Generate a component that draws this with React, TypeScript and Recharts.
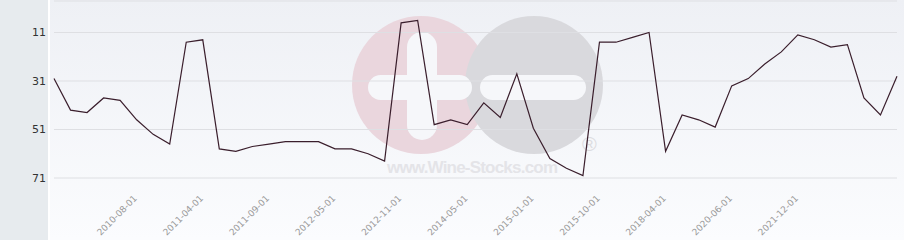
import React from 'react';
import { LineChart, Line, XAxis, YAxis, CartesianGrid } from 'recharts';

// category dates (only some are printed on the axis)
const dates = [
  '2009-10-01', '2010-01-01', '2010-03-01', '2010-05-01', '2010-07-01', '2010-08-01',
  '2010-10-01', '2010-12-01', '2011-02-01', '2011-04-01', '2011-05-01', '2011-06-01',
  '2011-07-01', '2011-09-01', '2011-11-01', '2012-01-01', '2012-03-01', '2012-05-01',
  '2012-06-01', '2012-08-01', '2012-10-01', '2012-11-01', '2013-03-01', '2013-07-01',
  '2013-11-01', '2014-05-01', '2014-07-01', '2014-09-01', '2014-11-01', '2015-01-01',
  '2015-04-01', '2015-06-01', '2015-08-01', '2015-10-01', '2016-06-01', '2017-01-01',
  '2017-08-01', '2018-04-01', '2018-11-01', '2019-05-01', '2019-12-01', '2020-06-01',
  '2020-10-01', '2021-02-01', '2021-07-01', '2021-12-01', '2022-06-01', '2022-12-01',
  '2023-06-01', '2023-12-01', '2024-06-01', '2024-12-01',
];

const ranks = [
  30, 43, 44, 38, 39, 47, 53, 57, 15, 14, 59, 60,
  58, 57, 56, 56, 56, 59, 59, 61, 64, 7, 6, 49,
  47, 49, 40, 46, 28, 50.5, 63, 67, 70, 15, 15, 13,
  11, 60, 45, 47, 50, 33, 30, 24, 19, 12, 14, 17,
  16, 38, 45, 29,
];

const labeledDates = [
  '2010-08-01', '2011-04-01', '2011-09-01', '2012-05-01', '2012-11-01', '2014-05-01',
  '2015-01-01', '2015-10-01', '2018-04-01', '2020-06-01', '2021-12-01',
];

const yTicks = [11, 31, 51, 71];

const data = dates.map((d, i) => ({ date: d, rank: ranks[i] }));

function DateTick(props: any) {
  const { x, y, payload } = props;
  if (!labeledDates.includes(payload.value)) return <g />;
  return (
    <text
      x={0}
      y={0}
      transform={`translate(${x + 1},${y + 13}) rotate(-45)`}
      textAnchor="end"
      fontSize={9}
      fontFamily="DejaVu Sans"
      fill="#999"
    >
      {payload.value}
    </text>
  );
}

// faint logo watermark behind the plot
function Watermark() {
  return (
    <svg width={904} height={240} style={{ position: 'absolute', left: 0, top: 0 }}>
      <circle cx={421} cy={85} r={69} fill="#ead6dd" />
      <circle cx={534} cy={85} r={69} fill="#d9d9dd" />
      <rect x={407} y={32} width={30} height={108} rx={15} fill="#f6f7fa" />
      <rect x={368} y={75} width={104} height={25} rx={12.5} fill="#f6f7fa" />
      <rect x={480} y={75} width={106} height={25} rx={12.5} fill="#f6f7fa" />
      <text
        x={387}
        y={173}
        fontSize={17}
        fontWeight="bold"
        fontFamily="Liberation Sans"
        fill="#e4e4e8"
        textLength={171}
      >
        www.Wine-Stocks.com
      </text>
      <text x={582} y={151} fontSize={20} fontFamily="Liberation Sans" fill="#dcdce0">
        ®
      </text>
    </svg>
  );
}

export default function App() {
  return (
    <div style={{ position: 'relative', width: 904, height: 240, overflow: 'hidden', background: '#fff' }}>
      <style>{'body{margin:0}'}</style>
      <div style={{ position: 'absolute', left: 0, top: 0, width: 48, height: 240, background: '#e7ebee' }} />
      <div
        style={{
          position: 'absolute',
          left: 50,
          top: 0,
          width: 854,
          height: 240,
          background: 'linear-gradient(#eef0f5, #fbfcfe)',
        }}
      />
      <Watermark />
      <div style={{ position: 'absolute', left: 0, top: 0 }}>
        <LineChart width={904} height={240} data={data} margin={{ top: 1, right: 7, left: 0, bottom: 0 }}>
          <CartesianGrid vertical={false} stroke="#dedfe3" />
          <XAxis
            dataKey="date"
            height={62}
            interval={0}
            axisLine={false}
            tickLine={false}
            tick={<DateTick />}
          />
          <YAxis
            width={54}
            reversed
            domain={[-2, 71]}
            ticks={yTicks}
            axisLine={false}
            tickLine={false}
            tick={{ fill: '#333', fontSize: 11, fontFamily: 'DejaVu Sans' }}
          />
          <Line
            type="linear"
            dataKey="rank"
            stroke="#3a1e2c"
            strokeWidth={1.2}
            dot={false}
            isAnimationActive={false}
          />
        </LineChart>
      </div>
    </div>
  );
}
